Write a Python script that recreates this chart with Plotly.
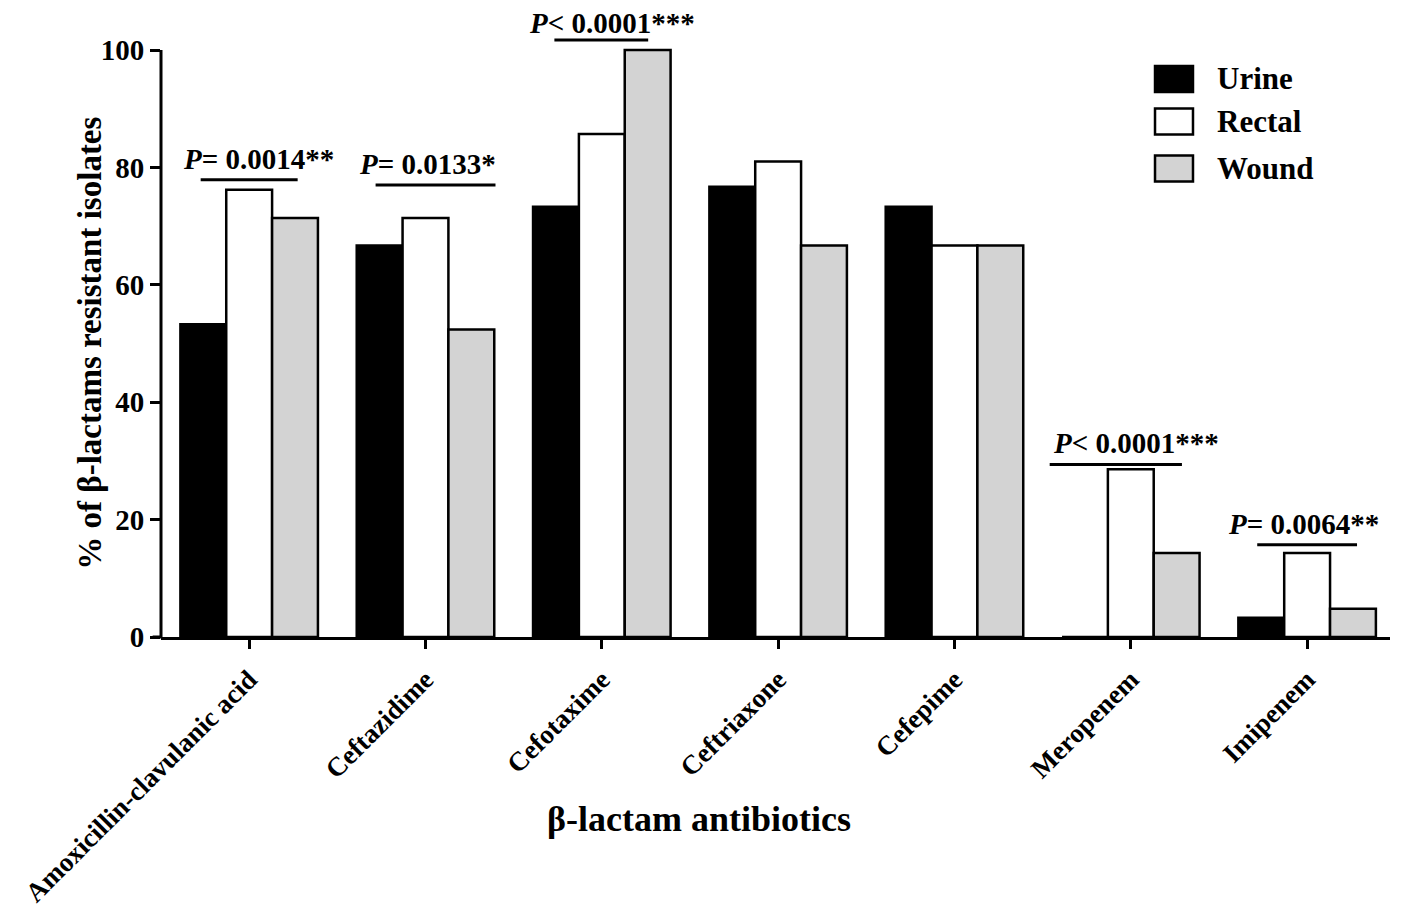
import plotly.graph_objects as go

categories = ["Amoxicillin-clavulanic acid", "Ceftazidime", "Cefotaxime",
              "Ceftriaxone", "Cefepime", "Meropenem", "Imipenem"]
series_names = ["Urine", "Rectal", "Wound"]
urine = [53.3, 66.7, 73.3, 76.7, 73.3, 0.0, 3.3]
rectal = [76.2, 71.4, 85.7, 81.0, 66.7, 28.6, 14.3]
wound = [71.4, 52.4, 100.0, 66.7, 66.7, 14.3, 4.8]
series_values = [urine, rectal, wound]
colors = ["#000000", "#ffffff", "#d3d3d3"]

y_ticks = [0, 20, 40, 60, 80, 100]

# significance brackets (category index span, height) and labels
sig_labels = ["<i>P</i>= 0.0014**", "<i>P</i>= 0.0133*", "<i>P</i>< 0.0001***",
              "<i>P</i>< 0.0001***", "<i>P</i>= 0.0064**"]
sig_x0 = [-0.275, 0.717, 1.731, 4.54, 5.717]
sig_x1 = [0.275, 1.397, 2.263, 5.29, 6.283]
sig_text_x = [0.054, 1.011, 2.06, 5.03, 5.98]
sig_y = [77.9, 77.0, 101.7, 29.4, 15.7]

FONT = "Liberation Serif"
Y_MAX = 107.0

fig = go.Figure()
for name, vals, col in zip(series_names, series_values, colors):
    fig.add_trace(go.Bar(
        x=list(range(len(categories))), y=vals, name=name,
        marker=dict(color=col, line=dict(color="black", width=2.5)),
        showlegend=False,
    ))

shapes = []
annotations = []
for lab, x0, x1, tx, yv in zip(sig_labels, sig_x0, sig_x1, sig_text_x, sig_y):
    shapes.append(dict(type="line", xref="x", yref="y", x0=x0, x1=x1, y0=yv, y1=yv,
                       line=dict(color="black", width=3)))
    near_top = yv > 100
    annotations.append(dict(x=tx, y=yv, xref="x", yref="y", text=lab, showarrow=False,
                            yanchor="middle", yshift=17 if near_top else 21,
                            height=30 if near_top else None,
                            font=dict(family=FONT, size=29, color="black", weight="bold")))

# y-axis line from 0 to 100 only
shapes.append(dict(type="line", xref="paper", yref="paper", x0=0, x1=0,
                   y0=0, y1=100 / Y_MAX, line=dict(color="black", width=3)))
# x-axis line extends slightly left of the y axis
shapes.append(dict(type="line", xref="paper", yref="paper", x0=-0.0068, x1=0,
                   y0=0, y1=0, line=dict(color="black", width=3)))

# manual legend
leg_y = [0.8886, 0.8210, 0.7462]
for name, col, ly in zip(series_names, colors, leg_y):
    shapes.append(dict(type="rect", xref="paper", yref="paper",
                       x0=0.8088, x1=0.8397, y0=ly - 0.0207, y1=ly + 0.0207,
                       fillcolor=col, line=dict(color="black", width=2.5)))
    annotations.append(dict(x=0.8576, y=ly, xref="paper", yref="paper", text=name,
                            showarrow=False, xanchor="left", yanchor="middle",
                            font=dict(family=FONT, size=31, color="black", weight="bold")))

# axis titles
annotations.append(dict(x=0.4378, y=-0.2904, xref="paper", yref="paper",
                        text="β-lactam antibiotics", showarrow=False,
                        xanchor="center", yanchor="middle",
                        font=dict(family=FONT, size=36, color="black", weight="bold")))
annotations.append(dict(x=-0.0578, y=0.4686, xref="paper", yref="paper",
                        text="% of β-lactams resistant isolates", showarrow=False,
                        textangle=-90, xanchor="center", yanchor="middle",
                        font=dict(family=FONT, size=33, color="black", weight="bold")))

fig.update_layout(
    width=1394, height=903,
    margin=dict(l=153, r=12, t=1, b=273.5, autoexpand=False),
    plot_bgcolor="white", paper_bgcolor="white",
    barmode="group", bargap=0.22, bargroupgap=0,
    font=dict(family=FONT, color="black", weight="bold"),
    shapes=shapes, annotations=annotations,
    showlegend=False,
    xaxis=dict(
        tickmode="array", tickvals=list(range(len(categories))), ticktext=categories,
        range=[-0.5, 6.47], tickangle=-45, automargin=False,
        showline=True, linecolor="black", linewidth=3,
        ticks="outside", ticklen=9, tickwidth=3, tickcolor="black",
        ticklabelstandoff=4,
        tickfont=dict(family=FONT, size=27, color="black", weight="bold"),
        showgrid=False, zeroline=False,
    ),
    yaxis=dict(
        range=[0, Y_MAX], tickmode="array", tickvals=y_ticks, automargin=False,
        showline=False, ticks="outside", ticklen=10, tickwidth=3, tickcolor="black",
        tickfont=dict(family=FONT, size=29, color="black", weight="bold"),
        showgrid=False, zeroline=False,
    ),
)

fig.write_html("out.html")
